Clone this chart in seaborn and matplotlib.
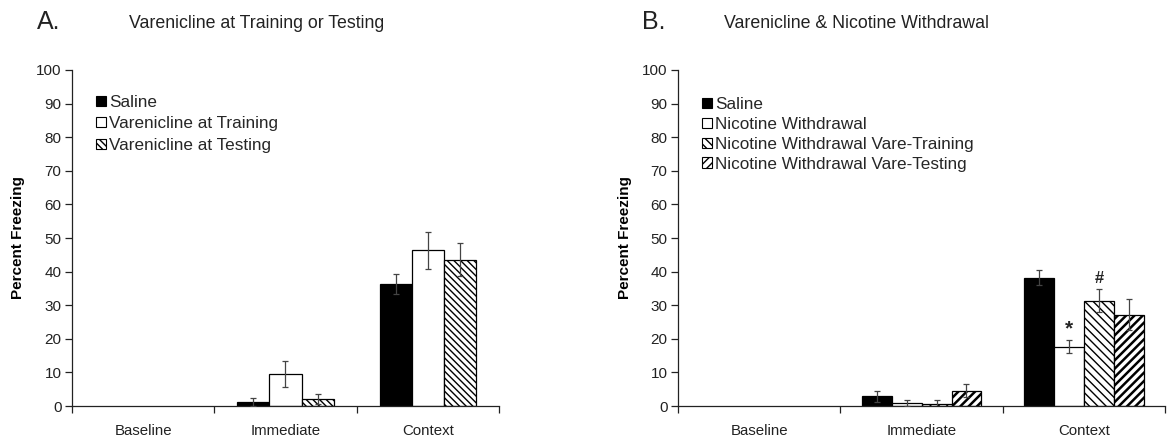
import pandas as pd
import matplotlib
matplotlib.use("Agg")
import matplotlib.pyplot as plt
from matplotlib.patches import Patch
import seaborn as sns

CATEGORIES = ["Baseline", "Immediate", "Context"]
MEASURED = ["Immediate", "Context"]   # baseline has no bars

# panel A: mean and SEM for (Immediate, Context)
A_GROUPS = ["Saline", "Varenicline at Training", "Varenicline at Testing"]
A_SALINE = [1.3, 36.2]
A_SALINE_SEM = [1.2, 3.0]
A_TRAINING = [9.5, 46.3]
A_TRAINING_SEM = [3.9, 5.4]
A_TESTING = [2.1, 43.6]
A_TESTING_SEM = [1.4, 5.0]

# panel B
B_GROUPS = ["Saline", "Nicotine Withdrawal",
            "Nicotine Withdrawal Vare-Training", "Nicotine Withdrawal Vare-Testing"]
B_SALINE = [2.9, 38.2]
B_SALINE_SEM = [1.7, 2.2]
B_NW = [0.9, 17.6]
B_NW_SEM = [1.0, 1.9]
B_NW_TRAINING = [0.6, 31.4]
B_NW_TRAINING_SEM = [1.2, 3.5]
B_NW_TESTING = [4.6, 27.2]
B_NW_TESTING_SEM = [1.9, 4.5]

sns.set_style("ticks")
plt.rcParams["font.family"] = ["Liberation Sans", "DejaVu Sans"]

INK = "#222222"


def draw_panel(ax, groups, means, sems, hatches, hatch_lws, width):
    rows = []
    for g, m, s in zip(groups, means, sems):
        for c, v, e in zip(MEASURED, m, s):
            rows.append({"condition": c, "group": g, "value": v, "sem": e})
    df = pd.DataFrame(rows)
    colors = ["black"] + ["white"] * (len(groups) - 1)
    sns.barplot(data=df, x="condition", y="value", hue="group",
                order=CATEGORIES, hue_order=groups, palette=colors,
                saturation=1, edgecolor="black", linewidth=0.9,
                width=width, errorbar=None, legend=False, ax=ax)

    for cont, s, h, lw in zip(ax.containers, sems, hatches, hatch_lws):
        xs, ys = [], []
        for bar in cont:
            if h:
                bar.set_hatch(h)
                if hasattr(bar, "set_hatch_linewidth"):
                    bar.set_hatch_linewidth(lw)
            xs.append(bar.get_x() + bar.get_width() / 2)
            ys.append(bar.get_height())
        ax.errorbar(xs, ys, yerr=s, fmt="none", ecolor="#444444",
                    elinewidth=0.9, capsize=2.5, capthick=0.9, zorder=4)

    ax.set_xlim(-0.5, 2.5)
    ax.set_ylim(0, 100)
    ax.set_yticks(range(0, 101, 10))
    ax.set_xticks(range(len(CATEGORIES)))
    ax.set_xticklabels(CATEGORIES)
    ax.set_xticks([i - 0.5 for i in range(len(CATEGORIES) + 1)], minor=True)
    ax.tick_params(axis="x", which="major", length=0, pad=13,
                   labelsize=10.8, labelcolor=INK)
    ax.tick_params(axis="x", which="minor", length=5, width=0.9,
                   direction="out", color=INK)
    ax.tick_params(axis="y", length=5, width=0.9, direction="out", pad=2.5,
                   labelsize=11, labelcolor=INK, color=INK)
    ax.set_xlabel("")
    ax.set_ylabel("Percent Freezing", fontsize=11, fontweight="bold",
                  color="black")
    sns.despine(ax=ax)
    for sp in ("left", "bottom"):
        ax.spines[sp].set_color(INK)
        ax.spines[sp].set_linewidth(0.9)

    handles = [Patch(facecolor=c, edgecolor="black", hatch=h, linewidth=0.8)
               for c, h in zip(colors, hatches)]
    return handles


fig = plt.figure(figsize=(11.7, 4.43), dpi=100)
ax_a = fig.add_axes([0.0615, 0.0835, 0.365, 0.7585])
ax_b = fig.add_axes([0.5795, 0.0835, 0.4165, 0.7585])

hand_a = draw_panel(ax_a, A_GROUPS,
                    [A_SALINE, A_TRAINING, A_TESTING],
                    [A_SALINE_SEM, A_TRAINING_SEM, A_TESTING_SEM],
                    [None, None, "\\\\\\\\\\"], [1, 1, 1.0], 0.676)
hand_b = draw_panel(ax_b, B_GROUPS,
                    [B_SALINE, B_NW, B_NW_TRAINING, B_NW_TESTING],
                    [B_SALINE_SEM, B_NW_SEM, B_NW_TRAINING_SEM, B_NW_TESTING_SEM],
                    [None, None, "\\\\\\\\", "////"], [1, 1, 1.0, 1.8], 0.736)

ax_a.yaxis.set_label_coords(-0.11, 0.5)
ax_b.yaxis.set_label_coords(-0.094, 0.5)

leg_kw = dict(loc="upper left", frameon=False, fontsize=12.3,
              handlelength=0.55, handleheight=0.55, handletextpad=0.2,
              borderpad=0, borderaxespad=0)
ax_a.legend(hand_a, A_GROUPS, bbox_to_anchor=(0.057, 0.926),
            labelspacing=0.38, **leg_kw)
ax_b.legend(hand_b, B_GROUPS, bbox_to_anchor=(0.05, 0.919),
            labelspacing=0.28, **leg_kw)

# significance marks over the context bars
ctx_nw = ax_b.containers[1][1]
ctx_vt = ax_b.containers[2][1]
ax_b.text(ctx_nw.get_x() + ctx_nw.get_width() / 2, B_NW[1] + B_NW_SEM[1] + 0.6,
          "*", ha="center", va="bottom", fontsize=15, fontweight="bold")
ax_b.text(ctx_vt.get_x() + ctx_vt.get_width() / 2,
          B_NW_TRAINING[1] + B_NW_TRAINING_SEM[1] + 0.8,
          "#", ha="center", va="bottom", fontsize=12, fontweight="bold")

fig.text(0.032, 0.95, "A.", fontsize=18, va="center", color=INK)
fig.text(0.110, 0.946, "Varenicline at Training or Testing", fontsize=12.8,
         va="center", color=INK)
fig.text(0.549, 0.95, "B.", fontsize=18, va="center", color=INK)
fig.text(0.619, 0.946, "Varenicline & Nicotine Withdrawal", fontsize=12.8,
         va="center", color=INK)

fig.savefig("out.png", dpi=100, facecolor="white")
